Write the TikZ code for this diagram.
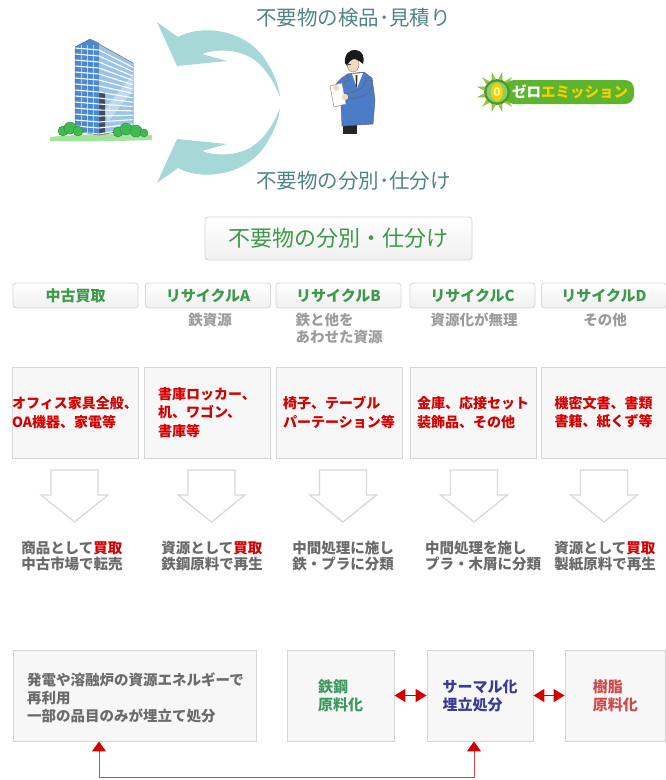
\documentclass[tikz,border=0pt]{standalone}
\usepackage{fontspec}
\setmainfont{Noto Sans CJK JP}
\usetikzlibrary{arrows.meta,calc}

\definecolor{tealtxt}{HTML}{4F8585}
\definecolor{cyanarrow}{HTML}{A6D8D8}
\definecolor{hdgreen}{HTML}{3C9A48}
\definecolor{subgray}{HTML}{9C9C9C}
\definecolor{outgray}{HTML}{6A6A6A}
\definecolor{itemred}{HTML}{D40000}
\definecolor{boxfill}{HTML}{F7F7F7}
\definecolor{boxline}{HTML}{D6D6D6}
\definecolor{endgreen}{HTML}{3A9A5C}
\definecolor{endblue}{HTML}{3A3A9A}
\definecolor{endred}{HTML}{D04848}
\definecolor{linkred}{HTML}{D84848}
\definecolor{bldA}{HTML}{4A88D0}
\definecolor{bldB}{HTML}{9CC4EA}
\definecolor{bldD}{HTML}{3E4E66}
\definecolor{bush}{HTML}{3FBA4F}
\definecolor{bushline}{HTML}{2A8A3A}
\definecolor{grass}{HTML}{A4E2A0}
\definecolor{jacket}{HTML}{4A7CC8}
\definecolor{skin}{HTML}{F4D8B8}
\definecolor{raygreen}{HTML}{8CC63F}
\definecolor{ringgreen}{HTML}{4A9A2A}
\definecolor{bannergreen}{HTML}{5DB52E}
\definecolor{logoyellow}{HTML}{F8D000}

\begin{document}
\begin{tikzpicture}[x=1pt,y=-1pt,
  toplabel/.style={inner sep=0pt, text=tealtxt, font=\fontsize{20.5}{24}\selectfont},
  hdrbox/.style={draw=boxline, line width=0.8pt, rounded corners=3pt, top color=white, bottom color=black!6},
  colhdr/.style={hdrbox, minimum width=125pt, minimum height=25pt, inner sep=0pt,
    text=hdgreen, font=\bfseries\fontsize{15}{18}\selectfont},
  sublbl/.style={inner sep=0pt, text=subgray, align=left, font=\bfseries\fontsize{14.5}{16.5}\selectfont},
  itembox/.style={draw=boxline, fill=boxfill, line width=0.9pt, minimum height=91pt, inner sep=0pt,
    align=left, text=itemred, font=\bfseries\fontsize{14}{18.5}\selectfont},
  outtxt/.style={inner sep=0pt, align=left, text=outgray, font=\bfseries\fontsize{14.5}{16.5}\selectfont},
  endbox/.style={draw=boxline, fill=boxfill, line width=0.9pt, minimum height=91pt, inner sep=0pt,
    align=left, font=\bfseries\fontsize{15}{18}\selectfont},
  dblred/.style={draw=itemred, line width=1.5pt,
    {Triangle[length=11pt,width=13pt]}-{Triangle[length=11pt,width=13pt]}},
  linkline/.style={draw=linkred, line width=1pt,
    {Triangle[length=10pt,width=14pt,color=itemred]}-{Triangle[length=10pt,width=14pt,color=itemred]}},
  downarr/.pic={\draw[draw=black!15, fill=white, line width=1.3pt, line join=miter]
    (-23.5,0) -- (23.5,0) -- (23.5,25) -- (33.5,25) -- (0,52) -- (-33.5,25) -- (-23.5,25) -- cycle;}
]
\useasboundingbox (0,0) rectangle (666,780);
\fill[white] (0,0) rectangle (666,780);

% ---------- office building ----------
\fill[grass] (50,137) .. controls (80,134) and (120,133) .. (152,135) -- (152,140) .. controls (120,141) and (80,142) .. (50,141) -- cycle;
\fill[bldA] (75,47) -- (90,39) -- (99,43) -- (99,135) -- (75,131) -- cycle;
\fill[bldB] (99,43) -- (90,39) -- (133,63) -- (133,129) -- (99,135) -- cycle;
\fill[white, opacity=0.35] (104,110) -- (133,74) -- (133,90) -- (108,122) -- cycle;
\fill[bldD] (99,92) -- (105,92) -- (105,134) -- (99,135) -- cycle;
\foreach \vx in {81,87,93}
  \draw[white, opacity=0.6, line width=0.6pt] (\vx,45) -- (\vx,133);
\foreach \k in {0,...,14} {
  \pgfmathsetmacro\yc{50+\k*6}
  \pgfmathsetmacro\yl{\yc-2}
  \pgfmathsetmacro\yr{63+(\yc-44)*0.725}
  \draw[white, line width=1.1pt] (75,\yl) -- (99,\yc) -- (133,\yr);
}
\draw[black!55, line width=0.5pt, line join=round] (75,47) -- (90,39) -- (133,63) -- (133,129) -- (99,135) -- (75,131) -- cycle;
\draw[black!40, line width=0.4pt] (90,39) -- (99,43) -- (99,135);
\foreach \bx/\by/\br in {63/131/5, 70/128/6, 78/131/5, 118/132/5, 126/129/6, 136/131/6, 144/133/4}
  \filldraw[fill=bush, draw=bushline, line width=0.4pt] (\bx,\by) circle (\br);

% ---------- circulating arrows ----------
\fill[cyanarrow] (157,22) -- (178,37) .. controls (200,25) and (240,28) .. (262,55)
  .. controls (273,70) and (279,85) .. (280,97) .. controls (274,82) and (265,66) .. (250,57)
  .. controls (235,49) and (215,49) .. (202,54) -- (227,61) -- (177,66) -- cycle;
\fill[cyanarrow] (157,183) -- (178,168) .. controls (200,180) and (240,177) .. (262,150)
  .. controls (273,135) and (279,120) .. (280,108) .. controls (274,123) and (265,139) .. (250,148)
  .. controls (235,156) and (215,156) .. (202,151) -- (227,144) -- (177,139) -- cycle;

\node[toplabel, anchor=west] (lblcheck) at (256,18) {不要物の検品･見積り};
\node[toplabel, anchor=west] (lblsort) at (256,181) {不要物の分別･仕分け};

% ---------- inspector ----------
\fill[black!85] (343,122) rectangle (357,134);
\filldraw[fill=jacket, draw=black!60, line width=0.5pt, line join=round]
  (347,74) -- (364,72) -- (372,78) -- (375,100) -- (373,124) -- (342,126) -- (341,104) -- (339,92) -- cycle;
\fill[white] (352,74) -- (363,73) -- (357,88) -- cycle;
\fill[black!80] (355.5,75) -- (357.5,75) -- (357,87) -- (356,87) -- cycle;
\filldraw[fill=jacket, draw=black!60, line width=0.5pt] (372,80) .. controls (374,92) and (365,98) .. (347,99) -- (345,94) .. controls (358,92) and (364,88) .. (366,80) -- cycle;
\filldraw[fill=jacket, draw=black!60, line width=0.5pt] (347,75) .. controls (340,78) and (336,83) .. (335,88) -- (339,90) .. controls (341,85) and (344,82) .. (349,80) -- cycle;
\filldraw[fill=white, draw=black!45, line width=0.5pt] (330,86) -- (342,83) -- (346,104) -- (334,107) -- cycle;
\fill[skin] (336,88) circle (3);
\fill[skin] (345,97) circle (3.2);
\filldraw[fill=skin, draw=black!50, line width=0.4pt] (353,64) ellipse (6 and 8);
\fill[black!90] (345,63) .. controls (344,54) and (350,49) .. (356,50) .. controls (362,51) and (365,56) .. (363,64)
  .. controls (361,62) and (358,60) .. (355,59) .. controls (352,59) and (349,61) .. (347,66) -- cycle;
\draw[black!70, line width=0.5pt] (346,64) -- (351,64);

% ---------- zero emission mark ----------
\foreach \a in {45,75,...,315}
  \fill[raygreen] ($(497,92)+(\a-9:13)$) -- ($(497,92)+(\a:21)$) -- ($(497,92)+(\a+9:13)$) -- cycle;
\fill[bannergreen, rounded corners=9pt] (505,80) rectangle (634,104);
\fill[ringgreen] (497,92) circle (13);
\fill[bannergreen!70!white] (497,92) circle (10.5);
\fill[logoyellow] (497,92) ellipse (6 and 9);
\node[inner sep=0pt, text=yellow!30, font=\bfseries\fontsize{12}{12}\selectfont] (zero) at (497,92.5) {0};
\node[inner sep=0pt, anchor=west, font=\bfseries\fontsize{14.5}{16}\selectfont] (zerotext) at (512,92)
  {\textcolor{white}{ゼロ}\textcolor{logoyellow}{エミッション}};

% ---------- sorting headings ----------
\node[hdrbox, minimum width=267pt, minimum height=43pt, inner sep=0pt, text=hdgreen,
  font=\fontsize{22}{26}\selectfont] (sorthdr) at (338.5,238.5) {不要物の分別・仕分け};

\node[colhdr] (h1) at (75.5,295.5) {中古買取};
\node[colhdr] (h2) at (208,295.5) {リサイクルA};
\node[colhdr] (h3) at (338.5,295.5) {リサイクルB};
\node[colhdr] (h4) at (472.5,295.5) {リサイクルC};
\node[colhdr] (h5) at (604,295.5) {リサイクルD};

\node[sublbl] (s2) at (210,320) {鉄資源};
\node[sublbl] (s3) at (339,328.5) {鉄と他を\\あわせた資源};
\node[sublbl] (s4) at (474,320) {資源化が無理};
\node[sublbl] (s5) at (605,320) {その他};

% ---------- item categories ----------
\node[itembox, minimum width=126pt] (i1) at (75,412.5) {オフィス家具全般、\\OA機器、家電等};
\node[itembox, minimum width=126pt] (i2) at (207,412.5) {書庫ロッカー、\\机、ワゴン、\\書庫等};
\node[itembox, minimum width=126pt] (i3) at (339,412.5) {椅子、テーブル\\パーテーション等};
\node[itembox, minimum width=126pt] (i4) at (473,412.5) {金庫、応接セット\\装飾品、その他};
\node[itembox, minimum width=125pt] (i5) at (603.5,412.5) {機密文書、書類\\書籍、紙くず等};

\pic at (74.5,470) {downarr};
\pic at (211.5,470) {downarr};
\pic at (343,470) {downarr};
\pic at (474,470) {downarr};
\pic at (604,470) {downarr};

\node[outtxt] (o1) at (72,556) {商品として\textcolor{itemred}{買取}\\中古市場で転売};
\node[outtxt] (o2) at (212,556) {資源として\textcolor{itemred}{買取}\\鉄鋼原料で再生};
\node[outtxt] (o3) at (343,556) {中間処理に施し\\鉄・プラに分類};
\node[outtxt] (o4) at (483,556) {中間処理を施し\\プラ・木屑に分類};
\node[outtxt] (o5) at (605,556) {資源として\textcolor{itemred}{買取}\\製紙原料で再生};

% ---------- final treatment ----------
\node[endbox, minimum width=243pt] (b1) at (134.5,695.5) {};
\node[inner sep=0pt, anchor=west, align=left, text=black!58,
  font=\bfseries\fontsize{14.5}{18}\selectfont] (b1text) at (27,698)
  {発電や溶融炉の資源エネルギーで\\再利用\\一部の品目のみが埋立て処分};
\node[endbox, minimum width=107pt, text=endgreen] (b2) at (340.5,695.5) {鉄鋼\\原料化};
\node[endbox, minimum width=106pt, text=endblue] (b3) at (480,695.5) {サーマル化\\埋立処分};
\node[endbox, minimum width=100.5pt, text=endred] (b4) at (615.25,695.5) {樹脂\\原料化};

\draw[dblred] (b2.east) -- (b3.west);
\draw[dblred] (b3.east) -- (b4.west);

\coordinate (linkL) at (99,777);
\coordinate (linkR) at (474,777);
\draw[linkline] (linkL |- b1.south) -- (linkL) -- (linkR) -- (linkR |- b3.south);
\end{tikzpicture}
\end{document}
